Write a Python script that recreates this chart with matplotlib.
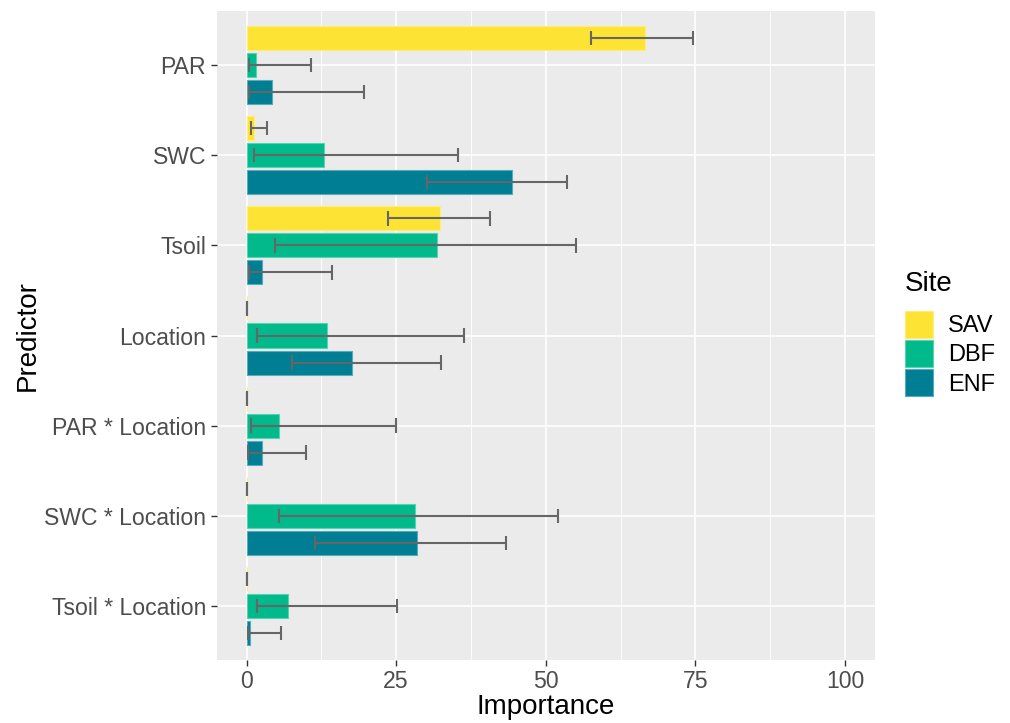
import matplotlib.pyplot as plt
import numpy as np
from matplotlib.patches import Patch


plt.rcParams['font.family'] = ['Liberation Sans', 'DejaVu Sans']

# predictors top to bottom
predictors = ["PAR", "SWC", "Tsoil", "Location", "PAR * Location",
              "SWC * Location", "Tsoil * Location"]
sites = ["SAV", "DBF", "ENF"]
site_colors = ["#FDE333", "#00BA8C", "#007E94"]

# mean importance per site (SAV has no location terms)
sav_val = [66.5, 1.3, 32.4, 0.0, 0.0, 0.0, 0.0]
dbf_val = [1.6, 12.9, 31.9, 13.4, 5.5, 28.2, 6.9]
enf_val = [4.2, 44.4, 2.6, 17.6, 2.6, 28.5, 0.5]

# error bar limits
sav_lo = [57.6, 0.8, 23.7, 0.0, 0.0, 0.0, 0.0]
sav_hi = [74.6, 3.4, 40.7, 0.0, 0.0, 0.0, 0.0]
dbf_lo = [0.45, 1.3, 4.7, 1.8, 0.8, 5.5, 1.8]
dbf_hi = [10.7, 35.3, 55.1, 36.4, 24.9, 52.1, 25.2]
enf_lo = [0.45, 30.1, 0.45, 7.6, 0.3, 11.5, 0.3]
enf_hi = [19.6, 53.6, 14.2, 32.5, 9.9, 43.4, 5.8]

values = [sav_val, dbf_val, enf_val]
lows = [sav_lo, dbf_lo, enf_lo]
highs = [sav_hi, dbf_hi, enf_hi]

DODGE = 0.3
BAR_H = 0.8 / 3
CAP = 0.16


def lighten(hex_color, amount=0.35):
    rgb = np.array([int(hex_color[i:i + 2], 16) for i in (1, 3, 5)]) / 255
    return tuple(rgb + (1 - rgb) * amount)


fig = plt.figure(figsize=(10.1, 7.23), dpi=100)
ax = fig.add_axes([0.2145, 0.0871, 0.8663 - 0.2145, 0.9848 - 0.0871])
ax.set_facecolor("#EBEBEB")

pos = np.arange(1, len(predictors) + 1)
for k, site in enumerate(sites):
    y = pos + (k - 1) * DODGE
    ax.barh(y, values[k], height=BAR_H, color=site_colors[k],
            edgecolor=lighten(site_colors[k]), linewidth=0.8, zorder=2)
    ax.hlines(y, lows[k], highs[k], color="#666666", lw=1.5, zorder=3)
    ax.vlines(lows[k], y - CAP / 2, y + CAP / 2, color="#666666", lw=1.5, zorder=3)
    ax.vlines(highs[k], y - CAP / 2, y + CAP / 2, color="#666666", lw=1.5, zorder=3)

ax.set_xlim(-5, 105)
ax.set_ylim(len(predictors) + 0.6, 0.4)
ax.set_xticks([0, 25, 50, 75, 100])
ax.set_xticks([12.5, 37.5, 62.5, 87.5], minor=True)
ax.set_yticks(pos)
ax.set_yticklabels(predictors)

ax.grid(which="major", color="white", lw=1.2, zorder=0)
ax.grid(which="minor", axis="x", color="white", lw=0.6, zorder=0)
ax.set_axisbelow(True)
for s in ax.spines.values():
    s.set_visible(False)

ax.tick_params(axis="both", which="major", labelsize=16.6, labelcolor="#4D4D4D",
               color="#333333", length=4, width=1)
ax.tick_params(axis="both", which="minor", length=0)
ax.set_xlabel("Importance", fontsize=20)
ax.set_ylabel("Predictor", fontsize=20)
ax.xaxis.set_label_coords(0.5, -0.0724)
ax.yaxis.set_label_coords(-0.2866, 0.5)
ax.xaxis.label.set_va("center")
ax.yaxis.label.set_va("center")

# legend: title drawn separately so the gap to the keys matches
fig.text(905 / 1010, 1 - 284 / 723, "Site", fontsize=20, va="center", ha="left")
handles = [Patch(facecolor=c, edgecolor=lighten(c), linewidth=0.8) for c in site_colors]
fig.legend(handles, sites, loc="upper left",
           bbox_to_anchor=(905 / 1010, 1 - 311 / 723), frameon=False, fontsize=17,
           handlelength=1.19, handleheight=1.37, labelspacing=0.1,
           handletextpad=0.64, borderpad=0, borderaxespad=0)

fig.savefig("out.png", dpi=100)
